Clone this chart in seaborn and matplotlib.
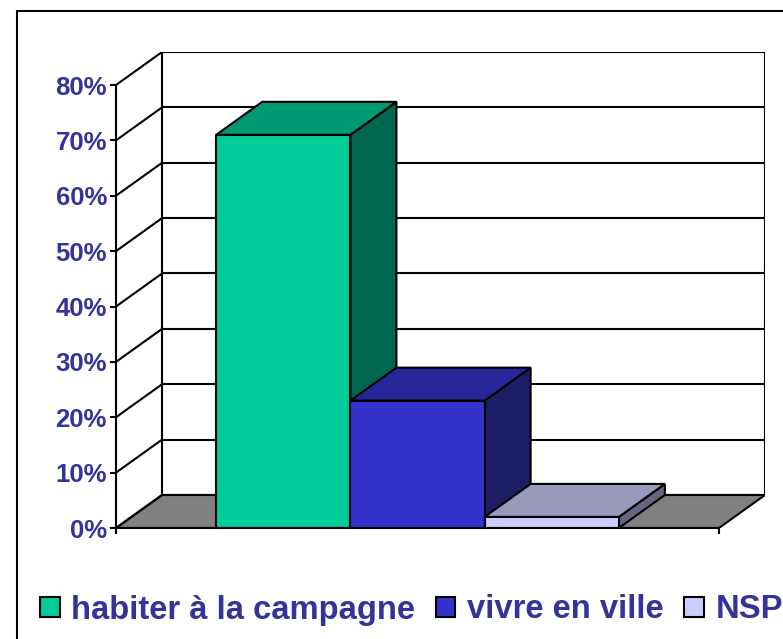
import matplotlib
matplotlib.use("Agg")
import matplotlib.pyplot as plt
from matplotlib.patches import Polygon, Patch, Rectangle
from matplotlib.lines import Line2D
import seaborn as sns
import pandas as pd

# ---- data ----
categories = ["habiter à la campagne", "vivre en ville", "NSP"]
values = [71, 23, 2]
tick_values = [0, 10, 20, 30, 40, 50, 60, 70, 80]
tick_labels = ["0%", "10%", "20%", "30%", "40%", "50%", "60%", "70%", "80%"]

front_colors = ["#00CC99", "#3333CC", "#CCCCFF"]
top_colors = ["#009973", "#262699", "#9999BB"]
side_colors = ["#00664D", "#1E1E66", "#666680"]
text_color = "#333399"

sns.set_style("white")
plt.rcParams["font.family"] = ["Liberation Sans", "DejaVu Sans"]

W, H = 783, 639
fig = plt.figure(figsize=(W / 100, H / 100), dpi=100)

# axes in pixel geometry
left_px, right_px, bottom_px, top_px = 116, 765, 528, 52
ax = fig.add_axes([left_px / W, (H - bottom_px) / H, (right_px - left_px) / W, (bottom_px - top_px) / H])

x_lo, x_hi = -1.246, 3.246
dx, dy = 0.343, 5.96
ymax = 80
lw = 1.5

df = pd.DataFrame({"cat": categories, "val": values})
sns.barplot(data=df, x="cat", y="val", hue="cat", palette=front_colors, width=1.0,
            edgecolor="black", linewidth=lw, ax=ax, legend=False, saturation=1, zorder=3)
bars = list(ax.patches)

ax.set_xlim(x_lo, x_hi + dx)
ax.set_ylim(0, ymax + dy)

# walls
ax.add_patch(Rectangle((x_lo + dx, dy), x_hi - x_lo, ymax, facecolor="white",
                       edgecolor="black", linewidth=lw, zorder=0.5))
ax.add_patch(Polygon([(x_lo, 0), (x_hi, 0), (x_hi + dx, dy), (x_lo + dx, dy)],
                     closed=True, facecolor="#808080", edgecolor="black", linewidth=lw, zorder=0.6))
for v in tick_values:
    if v > 0:
        ax.plot([x_lo + dx, x_hi + dx], [v + dy, v + dy], color="black", lw=lw, zorder=0.7)
    ax.plot([x_lo, x_lo + dx], [v, v + dy], color="black", lw=lw, zorder=0.7)

# 3D faces for bars
for i, p in enumerate(bars):
    x0, w, h = p.get_x(), p.get_width(), p.get_height()
    z = 3 + i * 0.1
    p.set_zorder(z + 0.05)
    top = Polygon([(x0, h), (x0 + w, h), (x0 + w + dx, h + dy), (x0 + dx, h + dy)],
                  closed=True, facecolor=top_colors[i], edgecolor="black", linewidth=lw, zorder=z)
    side = Polygon([(x0 + w, 0), (x0 + w + dx, dy), (x0 + w + dx, h + dy), (x0 + w, h)],
                   closed=True, facecolor=side_colors[i], edgecolor="black", linewidth=lw, zorder=z)
    ax.add_patch(side)
    ax.add_patch(top)

# axes styling
for s in ["top", "right"]:
    ax.spines[s].set_visible(False)
ax.spines["left"].set_bounds(0, ymax)
ax.spines["bottom"].set_bounds(x_lo, x_hi)
for s in ["left", "bottom"]:
    ax.spines[s].set_linewidth(lw)
    ax.spines[s].set_color("black")
    ax.spines[s].set_zorder(5)
ax.set_yticks(tick_values)
ax.set_yticklabels(tick_labels, fontsize=18.5, fontweight="bold", color=text_color)
ax.set_xticks([x_lo, x_hi])
ax.set_xticklabels(["", ""])
ax.tick_params(axis="both", direction="out", length=4.5, width=lw, color="black", pad=2,
               left=True, bottom=True)
ax.set_xlabel("")
ax.set_ylabel("")
ax.patch.set_visible(False)

# outer frame
yf = (H - 10.5) / H
xf = 17 / W
fig.add_artist(Line2D([xf, xf], [-0.1, yf], color="black", lw=1.5))
fig.add_artist(Line2D([xf, 1.1], [yf, yf], color="black", lw=1.5))

# legend
handles = [Patch(facecolor=c, edgecolor="black", linewidth=1.5) for c in front_colors]
leg = fig.legend(handles, categories, loc="center left", bbox_to_anchor=(40 / W, (H - 610) / H),
                 ncol=3, frameon=False, fontsize=23.6, handlelength=0.6, handleheight=0.6,
                 handletextpad=0.36, columnspacing=0.62, borderpad=0, borderaxespad=0)
for t in leg.get_texts():
    t.set_color(text_color)
    t.set_fontweight("bold")

fig.savefig("out.png", dpi=100)
